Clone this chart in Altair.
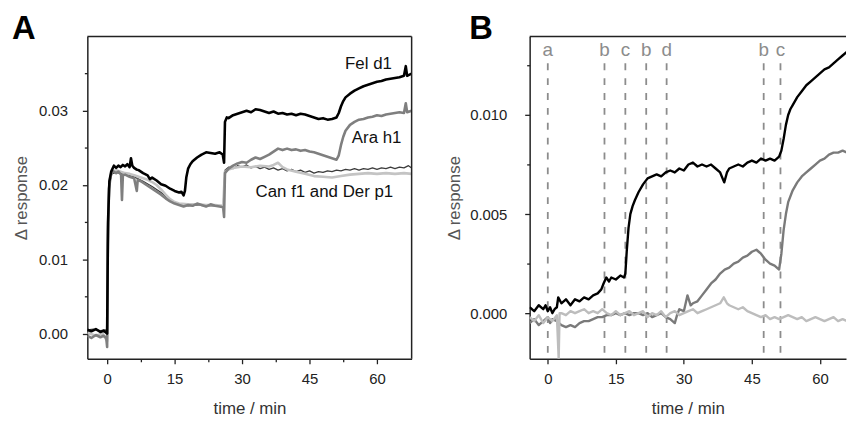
import altair as alt
import pandas as pd

# ---------------- Panel A data (time / min, delta response) ----------------
A_FEL_T = [-4.4, -3.5, -2.5, -1.5, -0.8, -0.2, 0.0, 0.2, 0.5, 0.9, 1.5, 2.0, 2.5, 3.0, 3.5, 4.0, 4.5, 5.0, 5.3, 5.6,
           6.0, 6.5, 7.0, 8.0, 9.0, 9.5, 10.0, 11.0, 12.0, 13.0, 14.0, 15.0, 16.0, 16.5, 17.0, 17.3, 17.6, 18.0, 18.5, 19.0,
           20.0, 21.0, 22.0, 23.0, 24.0, 25.0, 25.7, 26.0, 26.2, 26.6, 27.0, 28.0, 29.0, 30.0, 31.0, 32.0, 33.0, 34.0, 35.0, 36.0,
           37.0, 38.0, 39.0, 40.0, 41.0, 42.0, 43.0, 44.0, 45.0, 46.0, 47.0, 48.0, 49.0, 50.0, 51.0, 51.5, 52.0, 52.5, 53.0, 54.0,
           55.0, 56.0, 57.0, 58.0, 59.0, 60.0, 61.0, 62.0, 63.0, 64.0, 65.0, 66.0, 66.4, 66.7, 67.7]
A_FEL_V = [0.0005, 0.0003, 0.0006, 0.0002, 0.0004, 0.0001, 0.0000, 0.0150, 0.0205, 0.0218, 0.0226, 0.0223, 0.0226, 0.0224, 0.0227, 0.0225, 0.0228, 0.0224, 0.0236, 0.0226,
           0.0223, 0.0221, 0.0220, 0.0216, 0.0213, 0.0208, 0.0210, 0.0206, 0.0201, 0.0199, 0.0195, 0.0192, 0.0190, 0.0191, 0.0186, 0.0192, 0.0210, 0.0222, 0.0228, 0.0232,
           0.0237, 0.0241, 0.0244, 0.0243, 0.0242, 0.0244, 0.0241, 0.0230, 0.0285, 0.0291, 0.0290, 0.0294, 0.0296, 0.0298, 0.0300, 0.0298, 0.0302, 0.0301, 0.0299, 0.0297,
           0.0299, 0.0296, 0.0297, 0.0295, 0.0296, 0.0294, 0.0296, 0.0295, 0.0293, 0.0291, 0.0289, 0.0290, 0.0288, 0.0289, 0.0291, 0.0297, 0.0306, 0.0313, 0.0318, 0.0323,
           0.0327, 0.0330, 0.0333, 0.0335, 0.0337, 0.0339, 0.0340, 0.0342, 0.0343, 0.0344, 0.0345, 0.0347, 0.0360, 0.0347, 0.0350]

A_ARA_T = [-4.4, -3.5, -2.5, -1.5, -0.8, -0.2, 0.0, 0.15, 0.4, 0.8, 1.2, 2.0, 2.5, 3.1, 3.3, 3.5, 4.0, 5.0, 6.0, 6.6,
           6.8, 7.5, 8.0, 9.0, 10.0, 11.0, 12.0, 13.0, 14.0, 15.0, 16.0, 17.0, 18.0, 19.0, 20.0, 21.0, 22.0, 23.0, 24.0, 25.0,
           25.8, 26.0, 26.2, 27.0, 28.0, 29.0, 30.0, 31.0, 32.0, 33.0, 34.0, 35.0, 36.0, 37.0, 38.0, 39.0, 40.0, 41.0, 42.0, 43.0,
           44.0, 45.0, 46.0, 47.0, 48.0, 49.0, 50.0, 51.0, 51.5, 52.0, 52.5, 53.0, 54.0, 55.0, 56.0, 57.0, 58.0, 59.0, 60.0, 61.0,
           62.0, 63.0, 64.0, 65.0, 66.0, 66.4, 66.7, 67.7]
A_ARA_V = [-0.0003, -0.0006, -0.0002, -0.0005, -0.0003, -0.0006, -0.0018, 0.0120, 0.0195, 0.0212, 0.0219, 0.0216, 0.0218, 0.0214, 0.0180, 0.0213, 0.0214, 0.0211, 0.0209, 0.0192,
           0.0207, 0.0205, 0.0203, 0.0199, 0.0195, 0.0191, 0.0187, 0.0182, 0.0178, 0.0175, 0.0173, 0.0171, 0.0173, 0.0172, 0.0175, 0.0173, 0.0171, 0.0174, 0.0172, 0.0171,
           0.0170, 0.0157, 0.0216, 0.0222, 0.0226, 0.0229, 0.0231, 0.0230, 0.0234, 0.0237, 0.0235, 0.0238, 0.0241, 0.0245, 0.0249, 0.0247, 0.0249, 0.0247, 0.0248, 0.0246,
           0.0247, 0.0245, 0.0244, 0.0242, 0.0240, 0.0238, 0.0236, 0.0234, 0.0240, 0.0254, 0.0265, 0.0273, 0.0281, 0.0285, 0.0288, 0.0289, 0.0291, 0.0292, 0.0294, 0.0293,
           0.0295, 0.0296, 0.0297, 0.0298, 0.0297, 0.0310, 0.0298, 0.0300]

A_CAN_T = [-4.4, -2.5, -1.0, 0.0, 0.2, 0.5, 1.0, 2.0, 3.0, 4.0, 5.0, 6.0, 7.0, 8.0, 9.0, 10.0, 11.0, 12.0, 13.0, 14.0,
           15.0, 16.0, 18.0, 20.0, 22.0, 24.0, 25.8, 26.2, 27.0, 28.0, 30.0, 32.0, 34.0, 36.0, 37.0, 38.0, 39.0, 40.0, 42.0, 44.0,
           46.0, 48.0, 50.0, 52.0, 54.0, 56.0, 58.0, 60.0, 62.0, 64.0, 66.0, 67.7]
A_CAN_V = [0.0001, -0.0003, 0.0000, -0.0010, 0.0140, 0.0205, 0.0218, 0.0220, 0.0218, 0.0216, 0.0215, 0.0213, 0.0211, 0.0209, 0.0207, 0.0204, 0.0200, 0.0194, 0.0187, 0.0181,
           0.0177, 0.0175, 0.0174, 0.0174, 0.0173, 0.0173, 0.0172, 0.0218, 0.0221, 0.0223, 0.0225, 0.0224, 0.0226, 0.0225, 0.0227, 0.0230, 0.0224, 0.0221, 0.0218, 0.0215,
           0.0212, 0.0211, 0.0210, 0.0212, 0.0214, 0.0215, 0.0216, 0.0215, 0.0216, 0.0215, 0.0216, 0.0215]

A_DER_T = [-4.4, -3.0, -1.5, -0.3, 0.0, 0.2, 0.5, 1.0, 2.0, 4.0, 6.0, 8.0, 10.0, 12.0, 14.0, 16.0, 18.0, 20.0, 22.0, 24.0,
           25.8, 26.2, 27.0, 28.0, 29.0, 30.0, 31.0, 32.0, 33.0, 34.0, 35.0, 36.0, 37.0, 38.0, 39.0, 40.0, 41.0, 42.0, 43.0, 44.0,
           45.0, 46.0, 47.0, 48.0, 49.0, 50.0, 51.0, 52.0, 53.0, 54.0, 55.0, 56.0, 57.0, 58.0, 59.0, 60.0, 61.0, 62.0, 63.0, 64.0,
           65.0, 66.0, 67.0, 67.7]
A_DER_V = [0.0005, 0.0006, 0.0004, 0.0005, 0.0002, 0.0130, 0.0200, 0.0215, 0.0217, 0.0214, 0.0211, 0.0205, 0.0198, 0.0190, 0.0180, 0.0174, 0.0172, 0.0173, 0.0172, 0.0172,
           0.0171, 0.0220, 0.0224, 0.0222, 0.0226, 0.0224, 0.0227, 0.0223, 0.0225, 0.0222, 0.0224, 0.0221, 0.0223, 0.0220, 0.0222, 0.0219, 0.0221, 0.0218, 0.0220, 0.0217,
           0.0219, 0.0216, 0.0218, 0.0217, 0.0219, 0.0218, 0.0220, 0.0219, 0.0221, 0.0220, 0.0222, 0.0220, 0.0222, 0.0221, 0.0223, 0.0221, 0.0223, 0.0222, 0.0224, 0.0222,
           0.0224, 0.0223, 0.0226, 0.0223]

A_LABELS = ["Fel d1", "Ara h1", "Can f1 and Der p1"]
A_LABEL_T = [52.9, 54.4, 33.0]
A_LABEL_V = [0.0356, 0.0256, 0.0184]

# ---------------- Panel B data ----------------
B_FEL_T = [-4.0, -3.0, -2.0, -1.0, -0.5, 0.0, 0.5, 1.0, 1.5, 2.0, 2.3, 3.0, 4.0, 5.0, 6.0, 7.0, 8.0, 9.0, 10.0, 11.0,
           11.8, 12.3, 12.9, 13.5, 14.0, 15.0, 16.0, 16.8, 17.1, 17.4, 17.8, 18.2, 18.7, 19.2, 20.0, 21.0, 22.0, 23.0, 24.0, 25.0,
           26.0, 27.0, 28.0, 29.0, 30.0, 31.0, 32.0, 33.0, 34.0, 35.0, 36.0, 37.0, 38.0, 38.9, 39.5, 40.0, 41.0, 42.0, 43.0, 44.0,
           45.0, 46.0, 47.0, 48.0, 49.0, 50.0, 51.0, 51.5, 52.0, 52.5, 53.0, 53.5, 54.0, 55.0, 56.0, 57.0, 58.0, 59.0, 60.0, 61.0,
           62.0, 63.0, 64.0, 65.0, 66.0, 67.0]
B_FEL_V = [0.0003, 0.0001, 0.0004, 0.0002, 0.0004, 0.0001, 0.0003, 0.0000, 0.0002, 0.0003, 0.0008, 0.0005, 0.0007, 0.0004, 0.0007, 0.0006, 0.0008, 0.0007, 0.0009, 0.0010,
           0.0012, 0.0015, 0.0018, 0.0016, 0.0018, 0.0017, 0.0019, 0.0018, 0.0020, 0.0031, 0.0043, 0.0050, 0.0054, 0.0057, 0.0061, 0.0065, 0.0068, 0.0069, 0.0070, 0.0069,
           0.0071, 0.0072, 0.0071, 0.0073, 0.0072, 0.0075, 0.0076, 0.0074, 0.0075, 0.0074, 0.0075, 0.0073, 0.0071, 0.0066, 0.0071, 0.0073, 0.0074, 0.0075, 0.0074, 0.0076,
           0.0077, 0.0076, 0.0078, 0.0077, 0.0078, 0.0077, 0.0079, 0.0082, 0.0088, 0.0095, 0.0100, 0.0103, 0.0105, 0.0109, 0.0112, 0.0115, 0.0117, 0.0119, 0.0121, 0.0123,
           0.0124, 0.0126, 0.0128, 0.0130, 0.0132, 0.0133]

B_ARA_T = [-4.0, -3.0, -2.0, -1.0, 0.0, 0.5, 1.0, 2.0, 3.0, 4.0, 5.0, 6.0, 7.0, 8.0, 9.0, 10.0, 11.0, 12.0, 13.0, 14.0,
           15.0, 16.0, 17.0, 18.0, 19.0, 20.0, 21.0, 22.0, 23.0, 24.0, 25.0, 26.0, 27.0, 28.0, 28.5, 29.0, 30.0, 30.8, 31.5, 32.0,
           33.0, 34.0, 35.0, 36.0, 37.0, 38.0, 39.0, 40.0, 41.0, 42.0, 43.0, 44.0, 45.0, 46.0, 46.5, 47.0, 48.0, 49.0, 50.0, 51.0,
           51.5, 52.0, 52.5, 53.0, 54.0, 55.0, 56.0, 57.0, 58.0, 59.0, 60.0, 61.0, 62.0, 63.0, 64.0, 65.0, 66.0, 67.0]
B_ARA_V = [-0.0005, -0.0003, -0.0006, -0.0004, -0.0002, -0.0005, -0.0003, -0.0004, -0.0006, -0.0007, -0.0006, -0.0007, -0.0005, -0.0004, -0.0004, -0.0003, -0.0002, -0.0002, -0.0001, -0.0001,
           0.0000, -0.0001, 0.0000, -0.0001, 0.0000, 0.0000, -0.0001, 0.0000, -0.0002, -0.0001, 0.0000, -0.0002, -0.0003, -0.0005, -0.0001, 0.0002, 0.0001, 0.0009, 0.0004, 0.0005,
           0.0006, 0.0009, 0.0012, 0.0015, 0.0017, 0.0020, 0.0022, 0.0023, 0.0025, 0.0026, 0.0028, 0.0029, 0.0031, 0.0032, 0.0031, 0.0030, 0.0027, 0.0025, 0.0024, 0.0022,
           0.0030, 0.0042, 0.0050, 0.0056, 0.0062, 0.0066, 0.0069, 0.0071, 0.0073, 0.0075, 0.0077, 0.0078, 0.0080, 0.0081, 0.0081, 0.0082, 0.0081, 0.0081]

B_CAN_T = [-4.0, -3.0, -2.0, -1.0, 0.0, 1.0, 2.0, 2.4, 2.6, 3.0, 4.0, 5.0, 6.0, 7.0, 8.0, 9.0, 10.0, 11.0, 12.0, 13.0,
           14.0, 15.0, 16.0, 17.0, 18.0, 19.0, 20.0, 21.0, 22.0, 23.0, 24.0, 25.0, 26.0, 27.0, 28.0, 29.0, 30.0, 31.0, 32.0, 33.0,
           34.0, 35.0, 36.0, 37.0, 38.0, 38.8, 39.5, 40.0, 41.0, 42.0, 43.0, 44.0, 45.0, 46.0, 47.0, 48.0, 49.0, 50.0, 51.0, 52.0,
           53.0, 54.0, 55.0, 56.0, 57.0, 58.0, 59.0, 60.0, 61.0, 62.0, 63.0, 64.0, 65.0, 66.0, 67.0]
B_CAN_V = [-0.0002, -0.0004, -0.0001, -0.0005, -0.0002, -0.0004, -0.0001, -0.0023, 0.0000, 0.0000, -0.0001, 0.0001, 0.0000, 0.0001, 0.0002, 0.0000, 0.0001, 0.0000, 0.0002, 0.0000,
           -0.0001, 0.0001, -0.0001, 0.0000, 0.0001, -0.0001, 0.0000, 0.0001, -0.0002, 0.0000, -0.0001, 0.0001, -0.0002, 0.0000, 0.0001, -0.0001, 0.0000, 0.0001, 0.0002, 0.0000,
           0.0001, 0.0002, 0.0003, 0.0004, 0.0005, 0.0008, 0.0005, 0.0004, 0.0003, 0.0002, 0.0003, 0.0001, 0.0000, -0.0001, -0.0002, -0.0001, -0.0003, -0.0002, -0.0003, -0.0002,
           -0.0001, -0.0002, -0.0003, -0.0002, -0.0004, -0.0003, -0.0002, -0.0003, -0.0004, -0.0003, -0.0002, -0.0004, -0.0003, -0.0004, -0.0003]

B_MARK_LABELS = ["a", "b", "c", "b", "d", "b", "c"]
B_MARK_T = [0.0, 12.5, 17.1, 21.7, 26.2, 47.6, 51.3]

# ---------------- layout ----------------
A_W, A_H = 327, 325
B_W, B_H = 319, 325
FONT = "Liberation Sans"

one = pd.DataFrame({"k": [0]})


def x_enc(domain):
    return alt.X(
        "t:Q",
        scale=alt.Scale(domain=domain, nice=False, zero=False),
        axis=alt.Axis(
            values=[0, 7.5, 15, 22.5, 30, 37.5, 45, 52.5, 60],
            format="d",
            labelExpr="datum.value % 15 === 0 ? datum.label : ''",
            tickSize={"condition": {"test": "datum.value % 15 === 0", "value": 5}, "value": 3},
            title="time / min",
            titleBaseline="alphabetic",
            titleY=55,
            labelPadding=8,
        ),
    )


def y_enc(domain, values, fmt, test, title_x, label_pad):
    return alt.Y(
        "v:Q",
        scale=alt.Scale(domain=domain, nice=False, zero=False),
        axis=alt.Axis(
            values=values,
            format=fmt,
            labelExpr=f"({test}) ? datum.label : ''",
            tickSize={"condition": {"test": test, "value": 5}, "value": 3},
            title="Δ response",
            titleColor="#555555",
            titleBaseline="middle",
            titleX=title_x,
            titleY=A_H / 2,
            labelPadding=label_pad,
        ),
    )


def series(t, v, color, width, xe, ye):
    df = pd.DataFrame({"t": t, "v": v})
    return alt.Chart(df).mark_line(color=color, strokeWidth=width, clip=True, strokeJoin="round").encode(x=xe, y=ye)


# Panel A
xa = x_enc([-4.4, 67.7])
ya = y_enc([-0.0034, 0.040], [0, 0.005, 0.01, 0.015, 0.02, 0.025, 0.03, 0.035], ".2f",
           "round(datum.value * 1000) % 10 === 0", -66, 15)

a_layers = [
    series(A_DER_T, A_DER_V, "#3c3c3c", 1.3, xa, ya),
    series(A_CAN_T, A_CAN_V, "#c4c4c4", 2.6, xa, ya),
    series(A_ARA_T, A_ARA_V, "#7f7f7f", 2.6, xa, ya),
    series(A_FEL_T, A_FEL_V, "#000000", 2.6, xa, ya),
]
a_text = alt.Chart(pd.DataFrame({"t": A_LABEL_T, "v": A_LABEL_V, "lab": A_LABELS})).mark_text(
    align="left", baseline="alphabetic", fontSize=17, font=FONT, color="#111111"
).encode(x=alt.X("t:Q"), y=alt.Y("v:Q"), text="lab:N")
a_frame_top = alt.Chart(one).mark_rule(color="#222222", strokeWidth=1.5).encode(
    x=alt.value(0), x2=alt.value(A_W), y=alt.value(0))
a_frame_right = alt.Chart(one).mark_rule(color="#222222", strokeWidth=1.5).encode(
    x=alt.value(A_W), y=alt.value(0), y2=alt.value(A_H))
a_letter = alt.Chart(one).mark_text(
    text="A", align="left", baseline="top", fontSize=33, fontWeight="bold", font=FONT, color="#000000"
).encode(x=alt.value(-76), y=alt.value(-23))

panel_a = alt.layer(*a_layers, a_text, a_frame_top, a_frame_right, a_letter).properties(width=A_W, height=A_H)

# Panel B
xb = x_enc([-4.0, 65.75])
yb = y_enc([-0.0023, 0.01396], [0, 0.0025, 0.005, 0.0075, 0.01, 0.0125], ".3f",
           "round(datum.value * 10000) % 50 === 0", -76, 18)

b_marks = pd.DataFrame({"t": B_MARK_T, "lab": B_MARK_LABELS})
b_rules = alt.Chart(b_marks).mark_rule(color="#8c8c8c", strokeWidth=1.8, strokeDash=[7, 8]).encode(
    x=alt.X("t:Q"), y=alt.value(27), y2=alt.value(B_H))
b_letters = alt.Chart(b_marks).mark_text(
    align="center", baseline="alphabetic", fontSize=19, font=FONT, color="#8c8c8c"
).encode(x=alt.X("t:Q"), y=alt.value(20), text="lab:N")
b_layers = [
    series(B_ARA_T, B_ARA_V, "#7a7a7a", 2.4, xb, yb),
    series(B_CAN_T, B_CAN_V, "#bdbdbd", 2.4, xb, yb),
    series(B_FEL_T, B_FEL_V, "#000000", 2.4, xb, yb),
]
b_frame_top = alt.Chart(one).mark_rule(color="#222222", strokeWidth=1.5).encode(
    x=alt.value(0), x2=alt.value(B_W), y=alt.value(0))
b_letter = alt.Chart(one).mark_text(
    text="B", align="left", baseline="top", fontSize=33, fontWeight="bold", font=FONT, color="#000000"
).encode(x=alt.value(-61), y=alt.value(-23))

panel_b = alt.layer(b_rules, *b_layers, b_letters, b_frame_top, b_letter).properties(width=B_W, height=B_H)

chart = alt.hconcat(panel_a, panel_b, spacing=119, bounds="flush").properties(
    padding={"left": 4, "top": 4, "right": 0, "bottom": 0}
).configure_view(stroke=None).configure_axis(
    grid=False,
    domainColor="#222222",
    domainWidth=1.5,
    tickColor="#222222",
    tickWidth=1.3,
    labelFont=FONT,
    labelFontSize=15,
    labelColor="#222222",
    titleFont=FONT,
    titleFontSize=17,
    titleFontWeight="normal",
    titleColor="#333333",
).configure_text(font=FONT)

chart.save("out.html", embed_options={"renderer": "svg", "actions": False})
